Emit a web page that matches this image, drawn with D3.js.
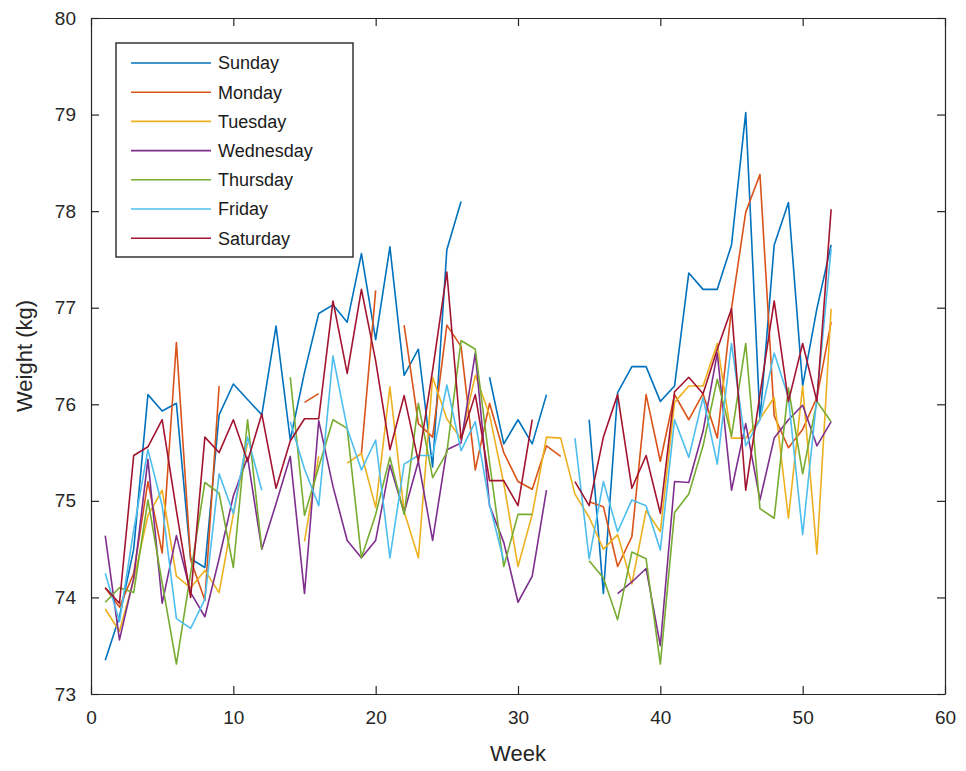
<!DOCTYPE html>
<html><head><meta charset="utf-8">
<script src="https://cdn.jsdelivr.net/npm/d3@7"></script>
<style>body{margin:0;background:#fff}svg{display:block}</style>
</head><body>
<script>
const weeks = d3.range(1, 53);
const seriesNames = ["Sunday","Monday","Tuesday","Wednesday","Thursday","Friday","Saturday"];
const seriesColors = ["#0072BD","#D95319","#EDB120","#7E2F8E","#77AC30","#4DBEEE","#A2142F"];
const N = null;
const sunday = [73.35,73.8,74.5,76.1,75.93,76.01,74.4,74.31,75.89,76.21,76.05,75.89,76.81,75.63,76.33,76.94,77.03,76.85,77.56,76.67,77.63,76.3,76.57,75.35,77.6,78.1,N,76.28,75.59,75.84,75.59,76.1,N,N,75.84,74.04,76.12,76.39,76.39,76.03,76.19,77.36,77.19,77.19,77.65,79.02,75.84,77.65,78.09,76.19,76.99,77.65];
const monday = [74.1,73.9,74.25,75.2,74.46,76.64,74.39,73.97,76.19,N,N,N,N,N,76.02,76.11,N,N,75.49,77.18,N,76.82,75.8,75.66,76.82,76.6,75.32,76.01,75.5,75.2,75.12,75.57,75.46,N,74.99,74.94,74.32,74.63,76.1,75.41,76.1,75.84,76.11,75.65,76.99,77.99,78.38,75.88,75.55,75.74,76.07,76.85];
const tuesday = [73.88,73.65,74.18,74.85,75.11,74.22,74.1,74.28,74.05,74.86,75.6,N,N,N,74.58,75.46,N,75.39,75.49,74.93,76.18,74.89,74.41,76.28,75.85,75.64,76.3,75.89,75.18,74.32,74.86,75.66,75.65,75.07,74.83,74.5,74.65,74.14,74.9,74.68,76.02,76.19,76.19,76.63,75.65,75.65,75.85,76.07,74.82,76.19,74.45,76.99];
const wednesday = [74.64,73.56,74.2,75.43,73.94,74.64,74.05,73.8,74.4,75.05,75.45,74.5,74.97,75.46,74.04,75.83,75.15,74.59,74.41,74.59,75.37,74.88,75.41,74.59,75.53,75.6,76.53,74.95,74.57,73.95,74.22,75.11,N,N,N,N,74.04,74.16,74.3,73.5,75.2,75.19,75.72,76.53,75.11,75.8,75.01,75.65,75.84,75.99,75.57,75.82];
const thursday = [73.95,74.1,74.05,75.01,74.15,73.31,74.25,75.19,75.08,74.31,75.84,74.5,N,76.28,74.85,75.35,75.84,75.75,74.41,74.86,75.45,74.86,76.01,75.24,75.5,76.66,76.57,75.4,74.32,74.86,74.86,N,N,N,74.38,74.2,73.77,74.47,74.4,73.31,74.88,75.07,75.57,76.26,75.67,76.63,74.92,74.82,76.17,75.28,76.03,75.82];
const friday = [74.25,73.75,74.7,75.53,74.95,73.78,73.68,73.98,75.28,74.87,75.66,75.11,N,75.82,75.33,74.95,76.5,75.75,75.32,75.63,74.41,75.38,75.47,75.47,76.2,75.52,75.82,74.96,74.38,N,N,N,N,75.65,74.4,75.2,74.68,75.01,74.95,74.49,75.84,75.45,76.07,75.38,76.63,75.57,75.84,76.53,76.07,74.65,76.07,77.61];
const saturday = [74.1,73.94,75.47,75.56,75.84,74.9,74.0,75.66,75.5,75.84,75.41,75.9,75.13,75.62,75.85,75.85,77.07,76.32,77.19,76.45,75.53,76.09,75.41,76.35,77.37,75.64,76.1,75.21,75.21,74.95,75.84,N,N,75.2,74.95,75.66,76.1,75.13,75.47,74.87,76.13,76.28,76.11,76.57,76.99,75.11,76.1,77.07,76.03,76.63,76.03,78.02];
const seriesValues = [sunday,monday,tuesday,wednesday,thursday,friday,saturday];
const xTicks = [0,10,20,30,40,50,60];
const yTicks = [73,74,75,76,77,78,79,80];
const xLabel = "Week";
const yLabel = "Weight (kg)";

const W = 966, H = 771;
const L = 91, R = 945, T = 18, B = 694;
const svg = d3.select("body").append("svg").attr("width", W).attr("height", H)
  .style("font-family", "'Liberation Sans', Arial, sans-serif");

const x = d3.scaleLinear().domain([0, 60]).range([L, R]);
const y = d3.scaleLinear().domain([73, 80]).range([B, T]);

const axisColor = "#262626";
const tl = 8;

const line = d3.line().defined(d => d[1] != null).x(d => x(d[0])).y(d => y(d[1]));
const g = svg.append("g");
seriesValues.forEach((vals, i) => {
  g.append("path")
    .datum(weeks.map((w, k) => [w, vals[k]]))
    .attr("d", line)
    .attr("fill", "none")
    .attr("stroke", seriesColors[i])
    .attr("stroke-width", 1.6)
    .attr("stroke-linejoin", "round");
});

const fmt = d3.format("d");
const xb = d3.axisBottom(x).tickValues(xTicks).tickFormat(fmt).tickSizeInner(-tl).tickSizeOuter(0).tickPadding(17);
const yl = d3.axisLeft(y).tickValues(yTicks).tickFormat(fmt).tickSizeInner(-tl).tickSizeOuter(0).tickPadding(15);
const xt = d3.axisTop(x).tickValues(xTicks).tickSizeInner(-tl).tickSizeOuter(0).tickFormat("");
const yr = d3.axisRight(y).tickValues(yTicks).tickSizeInner(-tl).tickSizeOuter(0).tickFormat("");

function styleAxis(sel) {
  sel.select(".domain").attr("stroke", axisColor).attr("stroke-width", 1.2);
  sel.selectAll(".tick line").attr("stroke", axisColor).attr("stroke-width", 1.2);
  sel.selectAll(".tick text").attr("fill", "#262626").style("font-size", "19px")
    .style("font-family", "'Liberation Sans', Arial, sans-serif");
}
svg.append("g").attr("transform", `translate(0,${B})`).call(xb).call(styleAxis);
svg.append("g").attr("transform", `translate(${L},0)`).call(yl).call(styleAxis);
svg.append("g").attr("transform", `translate(0,${T})`).call(xt).call(styleAxis);
svg.append("g").attr("transform", `translate(${R},0)`).call(yr).call(styleAxis);

svg.append("text").attr("x", (L + R) / 2).attr("y", 761).attr("text-anchor", "middle")
  .attr("fill", "#262626").style("font-size", "22px").text(xLabel);
svg.append("text").attr("transform", `translate(32,${(T + B) / 2}) rotate(-90)`)
  .attr("text-anchor", "middle").attr("fill", "#262626").style("font-size", "22px").text(yLabel);

const lg = svg.append("g");
lg.append("rect").attr("x", 116).attr("y", 43).attr("width", 237).attr("height", 214)
  .attr("fill", "#fff").attr("stroke", "#262626").attr("stroke-width", 1.4);
seriesNames.forEach((name, i) => {
  const yy = 63 + i * 29.2;
  lg.append("line").attr("x1", 131).attr("x2", 211).attr("y1", yy).attr("y2", yy)
    .attr("stroke", seriesColors[i]).attr("stroke-width", 1.6);
  lg.append("text").attr("x", 218).attr("y", yy).attr("dy", "0.36em")
    .attr("fill", "#1a1a1a").style("font-size", "18px").text(name);
});
</script>
</body></html>
